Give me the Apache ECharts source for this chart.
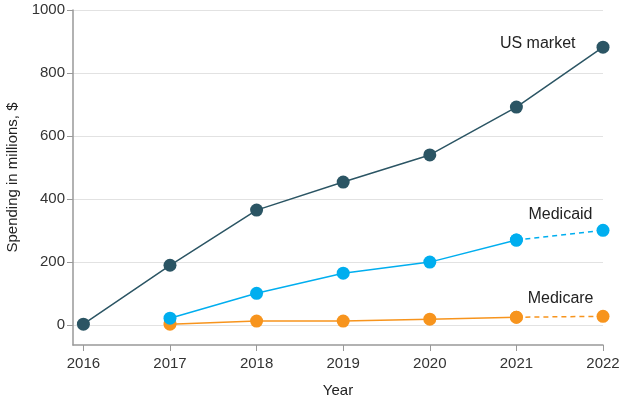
<!DOCTYPE html>
<html>
<head>
<meta charset="utf-8">
<script src="https://cdn.jsdelivr.net/npm/echarts@6/dist/echarts.min.js"></script>
<style>
  html, body { margin: 0; padding: 0; background: #fff; }
  #chart { width: 624px; height: 399px; }
</style>
</head>
<body>
<div id="chart"></div>
<script>
// values
const years = [2016, 2017, 2018, 2019, 2020, 2021, 2022];
const usMarket = [3, 190, 365, 454, 540, 692, 882];
const medicaidYears = [2017, 2018, 2019, 2020, 2021];
const medicaid = [22, 101, 165, 200, 270];
const medicaidProjected = [270, 301];
const medicareYears = [2017, 2018, 2019, 2020, 2021];
const medicare = [3, 13, 13, 19, 25];
const medicareProjected = [25, 28];
const yTicks = [0, 200, 400, 600, 800, 1000];

const font = 'Liberation Sans';
const cDark = '#2b5564';
const cBlue = '#00aeef';
const cOrange = '#f7941d';

const pairs = (xs, ys) => xs.map((x, i) => [x, ys[i]]);

const endLabel = (text, offset) => ({
    show: true,
    position: 'left',
    offset: offset,
    formatter: text,
    color: '#222',
    fontFamily: font,
    fontSize: 16
});

const chart = echarts.init(document.getElementById('chart'));

chart.setOption({
    animation: false,
    grid: { left: 73, right: 21, top: 10, bottom: 54, outerBoundsMode: 'none', containLabel: false },
    xAxis: {
        type: 'value',
        min: 2015.88,
        max: 2022,
        name: 'Year',
        nameLocation: 'middle',
        nameGap: 38,
        nameTextStyle: { color: '#222', fontFamily: font, fontSize: 15 },
        axisLine: { onZero: false, lineStyle: { color: '#999', width: 1.5 } },
        axisTick: { show: true, customValues: years, length: 6, lineStyle: { color: '#999' } },
        axisLabel: { customValues: years, formatter: v => String(v), color: '#333', fontFamily: font, fontSize: 15, margin: 11 },
        splitLine: { show: false }
    },
    yAxis: {
        type: 'value',
        min: -63,
        max: 1000,
        name: 'Spending in millions, $',
        nameLocation: 'middle',
        nameGap: 47,
        nameTextStyle: { color: '#222', fontFamily: font, fontSize: 15 },
        axisLine: { show: true, onZero: false, lineStyle: { color: '#999', width: 1.5 } },
        axisTick: { show: true, customValues: yTicks, length: 6, lineStyle: { color: '#999' } },
        axisLabel: { customValues: yTicks, formatter: v => String(v), color: '#333', fontFamily: font, fontSize: 15, margin: 8 },
        splitLine: { show: true, lineStyle: { color: '#e2e2e2', width: 1 } }
    },
    series: [
        {
            name: 'Medicare',
            type: 'line',
            data: pairs(medicareYears, medicare),
            symbol: 'circle',
            symbolSize: 13,
            itemStyle: { color: cOrange },
            lineStyle: { color: cOrange, width: 1.5 }
        },
        {
            name: 'Medicare projected',
            type: 'line',
            data: [
                [2021, medicareProjected[0]],
                { value: [2022, medicareProjected[1]], label: endLabel('Medicare', [2, -18]) }
            ],
            symbol: 'circle',
            symbolSize: 13,
            itemStyle: { color: cOrange },
            lineStyle: { color: cOrange, width: 1.5, type: [5, 4] }
        },
        {
            name: 'Medicaid',
            type: 'line',
            data: pairs(medicaidYears, medicaid),
            symbol: 'circle',
            symbolSize: 13,
            itemStyle: { color: cBlue },
            lineStyle: { color: cBlue, width: 1.5 }
        },
        {
            name: 'Medicaid projected',
            type: 'line',
            data: [
                [2021, medicaidProjected[0]],
                { value: [2022, medicaidProjected[1]], label: endLabel('Medicaid', [1, -16]) }
            ],
            symbol: 'circle',
            symbolSize: 13,
            itemStyle: { color: cBlue },
            lineStyle: { color: cBlue, width: 1.5, type: [5, 4] }
        },
        {
            name: 'US market',
            type: 'line',
            data: years.map((y, i) => i === years.length - 1
                ? { value: [y, usMarket[i]], label: endLabel('US market', [-16, -4]) }
                : [y, usMarket[i]]),
            symbol: 'circle',
            symbolSize: 13,
            itemStyle: { color: cDark },
            lineStyle: { color: cDark, width: 1.5 }
        }
    ]
});
</script>
</body>
</html>
